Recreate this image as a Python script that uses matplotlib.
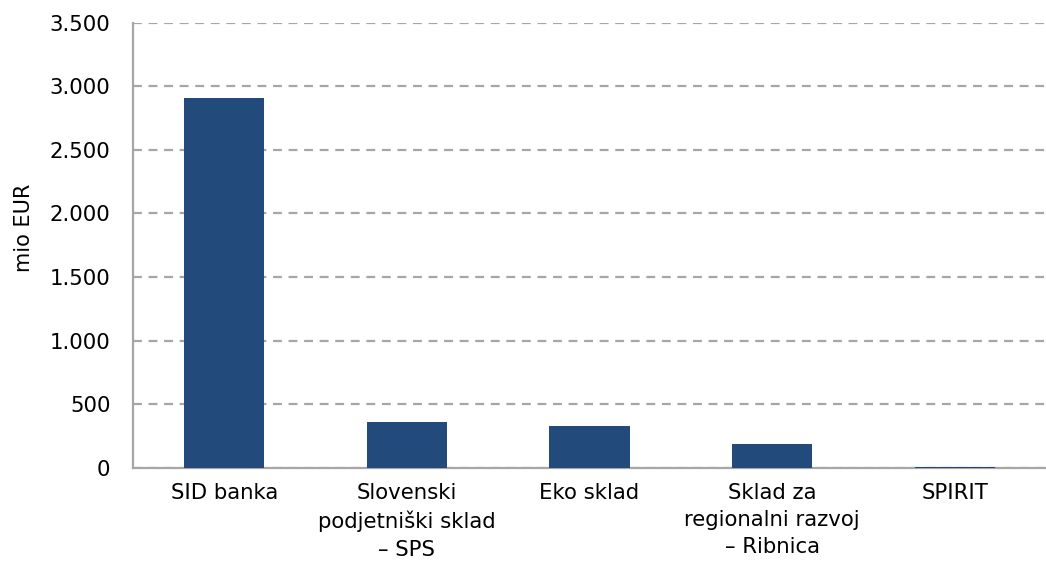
import matplotlib.pyplot as plt
from matplotlib.ticker import FuncFormatter

categories = ["SID banka", "Slovenski\npodjetniški sklad\n– SPS", "Eko sklad",
              "Sklad za\nregionalni razvoj\n– Ribnica", "SPIRIT"]
values = [2910, 362, 330, 189, 4]
yticks = [0, 500, 1000, 1500, 2000, 2500, 3000, 3500]

plt.rcParams['font.family'] = ['DejaVu Sans']

fig = plt.figure(figsize=(10.46, 5.67), dpi=100)
ax = fig.add_axes([0.127, 0.175, 0.873, 0.785])

x = range(len(categories))
ax.bar(x, values, width=0.44, color="#224A7B", zorder=3)

ax.set_xlim(-0.5, len(categories) - 0.5)
ax.set_ylim(0, 3500)
ax.set_yticks(yticks)
ax.yaxis.set_major_formatter(FuncFormatter(lambda v, p: f"{int(v):,}".replace(",", ".")))
ax.set_xticks(list(x))
ax.set_xticklabels(categories, fontsize=15.3, linespacing=1.45)
ax.tick_params(axis='y', labelsize=15.3, length=0, pad=16)
ax.tick_params(axis='x', length=0, pad=11)
ax.set_ylabel("mio EUR", fontsize=15)
ax.yaxis.set_label_coords(-0.108, 0.54)

ax.grid(axis='y', color="#A6A6A6", linestyle=(0, (4, 3)), linewidth=1.6, zorder=0)
for s in ['top', 'right']:
    ax.spines[s].set_visible(False)
ax.spines['left'].set_color("#A6A6A6")
ax.spines['left'].set_linewidth(1.6)
ax.spines['bottom'].set_color("#A6A6A6")
ax.spines['bottom'].set_linewidth(1.6)

fig.savefig("out.png", dpi=100)
